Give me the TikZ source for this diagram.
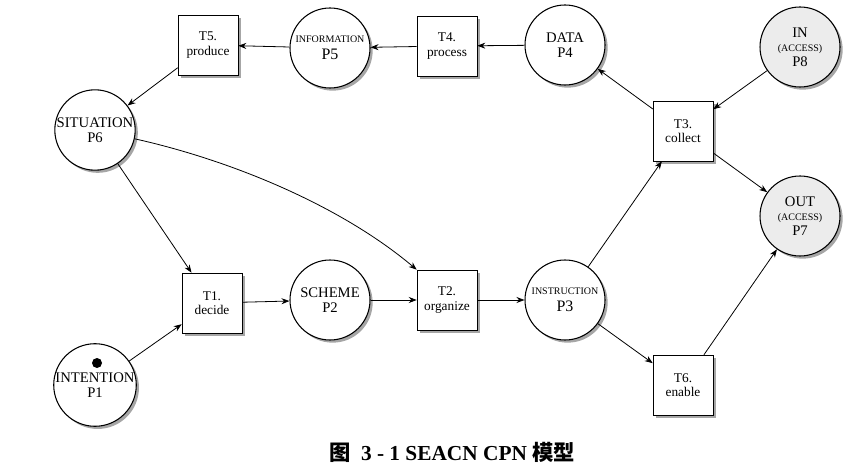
\documentclass[tikz,border=0pt]{standalone}
\usepackage{fontspec}
\setmainfont{Liberation Serif}
\newfontfamily\cjk{Noto Sans CJK SC}
\usetikzlibrary{shapes,shadows,arrows.meta}

\newcommand{\tinylab}[1]{{\fontsize{7.5}{8}\selectfont #1}}

\begin{document}
\begin{tikzpicture}[x=0.75pt,y=-0.75pt,
    place/.style={circle,draw,thick,fill=white,minimum size=60pt,inner sep=0pt,align=center,
      font=\fontsize{11}{11}\selectfont,
      drop shadow={shadow xshift=2pt,shadow yshift=-2pt,fill=gray!70,opacity=1}},
    access/.style={fill=gray!15},
    trans/.style={rectangle,draw,fill=white,minimum size=45pt,inner sep=0pt,align=center,
      font=\fontsize{10}{11}\selectfont,
      drop shadow={shadow xshift=2pt,shadow yshift=-2pt,fill=gray!70,opacity=1}},
    token/.style={circle,fill,inner sep=0pt,minimum size=7.5pt},
    arc/.style={-{Stealth[length=6pt,width=4.5pt]},semithick}]
    \useasboundingbox (0,0) rectangle (855,473);
    % top row
    \node[trans] (T5) at (208,45) {T5.\\produce};
    \node[place,font=\fontsize{12}{12.5}\selectfont] (P5) at (330,48) {\tinylab{INFORMATION}\\P5};
    \node[trans] (T4) at (447,46) {T4.\\process};
    \node[place] (P4) at (565,45) {DATA\\P4};
    \node[place,access] (P8) at (800,47) {IN\\\tinylab{(ACCESS)}\\P8};
    % middle
    \node[place] (P6) at (95,130) {SITUATION\\P6};
    \node[trans] (T3) at (683,131) {T3.\\collect};
    \node[place,access] (P7) at (800,216) {OUT\\\tinylab{(ACCESS)}\\P7};
    % bottom row
    \node[trans] (T1) at (212,303) {T1.\\decide};
    \node[place] (P2) at (330,300) {SCHEME\\P2};
    \node[trans] (T2) at (447,300) {T2.\\organize};
    \node[place,font=\fontsize{12}{12.5}\selectfont] (P3) at (565,300) {\tinylab{INSTRUCTION}\\P3};
    \node[place] (P1) at (95,385) {\\[-4pt]INTENTION\\P1};
    \node[token] (tok) at (97,363) {};
    \node[trans] (T6) at (683,385) {T6.\\enable};
    % arcs
    \draw[arc] (P4) -- (T4);
    \draw[arc] (T4) -- (P5);
    \draw[arc] (P5) -- (T5);
    \draw[arc] (T5) -- (P6);
    \draw[arc] (P6) -- (T1);
    \draw[arc] (P6) .. controls (230,160) and (340,205) .. (T2.north west);
    \draw[arc] (P1) -- (T1);
    \draw[arc] (T1) -- (P2);
    \draw[arc] (P2) -- (T2);
    \draw[arc] (T2) -- (P3);
    \draw[arc] (P3) -- (T3);
    \draw[arc] (P3) -- (T6);
    \draw[arc] (T3) -- (P4);
    \draw[arc] (P8) -- (T3);
    \draw[arc] (T3) -- (P7);
    \draw[arc] (T6) -- (P7);
    % caption
    \node[font=\fontsize{16}{17}\selectfont\bfseries] (cap) at (452,452)
      {{\cjk\bfseries 图}\ \ 3 - 1 SEACN CPN {\cjk\bfseries 模型}};
\end{tikzpicture}
\end{document}
